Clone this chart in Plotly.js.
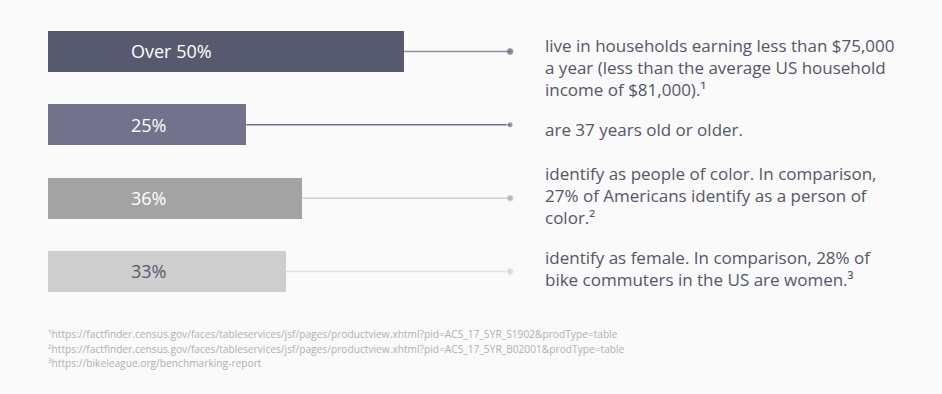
<!DOCTYPE html>
<html><head><meta charset="utf-8">
<script src="https://cdn.plot.ly/plotly-3.0.1.min.js"></script>
<style>html,body{margin:0;padding:0;background:#fafafa;}</style>
</head><body>
<div id="chart" style="width:942px;height:394px;"></div>
<script>
var categories = ["income", "age", "race", "gender"];
var barLabels = ["Over 50%", "25%", "36%", "33%"];
var barValues = [49.4, 27.5, 35.2, 33.0];
var connectorEnd = 64.1;
var descriptions = [
  "live in households earning less than $75,000<br>a year (less than the average US household<br>income of $81,000).¹",
  "are 37 years old or older.",
  "identify as people of color. In comparison,<br>27% of Americans identify as a person of<br>color.²",
  "identify as female. In comparison, 28% of<br>bike commuters in the US are women.³"
];
var footnotes = [
  "¹https://factfinder.census.gov/faces/tableservices/jsf/pages/productview.xhtml?pid=ACS_17_5YR_S1902&prodType=table",
  "²https://factfinder.census.gov/faces/tableservices/jsf/pages/productview.xhtml?pid=ACS_17_5YR_B02001&prodType=table",
  "³https://bikeleague.org/benchmarking-report"
];
var barColors = ["#575a6f", "#72728c", "#a3a3a3", "#cdcecd"];
var lineColors = ["#8c8ea0", "#6f7088", "#d3d3d3", "#e2e2e2"];
var dotColors = ["#555870", "#6f7088", "#a0a0a0", "#d0d0d0"];
var labelColors = ["#ffffff", "#ffffff", "#ffffff", "#585a6e"];

var FONT = "Open Sans, sans-serif";
var traces = [];
for (var i = 0; i < categories.length; i++) {
  traces.push({
    type: "scatter", mode: "lines+markers",
    x: [barValues[i], connectorEnd], y: [categories[i], categories[i]],
    line: {color: lineColors[i], width: 1.5},
    marker: {size: [0, 6], color: dotColors[i]},
    hoverinfo: "skip", showlegend: false
  });
}
traces.push({
  type: "bar", orientation: "h",
  x: barValues, y: categories,
  width: 0.56,
  marker: {color: barColors},
  hoverinfo: "skip", showlegend: false
});

var annotations = [];
for (var i = 0; i < categories.length; i++) {
  annotations.push({
    xref: "paper", x: 81/894, yref: "y", y: categories[i],
    xanchor: "left", yanchor: "middle", showarrow: false,
    text: barLabels[i], font: {family: FONT, size: 18, color: labelColors[i]}
  });
  annotations.push({
    xref: "paper", x: 495/894, yref: "y", y: categories[i],
    xanchor: "left", yanchor: "middle", showarrow: false, align: "left",
    yshift: i === 0 ? -16 : (i === 1 ? -5 : 3),
    text: descriptions[i], font: {family: FONT, size: 17, color: "#55566a"}
  });
}
for (var j = 0; j < footnotes.length; j++) {
  annotations.push({
    xref: "paper", x: -2/894, yref: "paper", y: 1 - (334 + j * 14.5) / 394,
    xanchor: "left", yanchor: "middle", showarrow: false,
    text: footnotes[j], font: {family: FONT, size: 10.2, color: "#b0b0b0"}
  });
}

var layout = {
  width: 942, height: 394,
  margin: {l: 48, r: 0, t: 0, b: 0, pad: 0},
  paper_bgcolor: "#fafafa", plot_bgcolor: "#fafafa",
  xaxis: {range: [0, 124], visible: false, fixedrange: true},
  yaxis: {type: "category", categoryorder: "array", categoryarray: categories,
          range: [4.671, -0.702], visible: false, fixedrange: true},
  annotations: annotations,
  bargap: 0
};
Plotly.newPlot("chart", traces, layout, {displayModeBar: false, staticPlot: true});
</script>
</body></html>
